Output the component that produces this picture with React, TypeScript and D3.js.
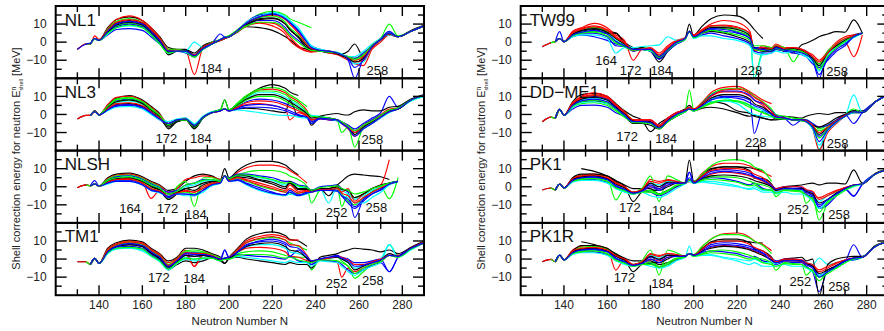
import React from "react";
import * as d3 from "d3";

const _ = null;

// Neutron numbers at which every chain is sampled
const N_GRID = [130,134,136,138,140, 144,148,154,160,164,168, 172,176,180,184,188,192,196,198, 200,204,208,214,220,226,228,232, 236,238,242,246,250,252,255,258, 262,266,270,274,278,284,290];

const LINE_COLORS = ["#000000","#ff0000","#00ff00","#0000ff","#00ffff"];

const NL1_LINES = [
  [-4,-1,-1,2,1, 8,12.5,14,12,8,3, -3,-4,-4,-6,-2,0,1,2, 3,6,8.5,8,6.5,3,1.5,-2.5, -4,-5,-5,-5.5,-6,-6.5,-5,-1, -8,-3,1,4,3,6,9],
  [-4,-1,-1,3.5,1.5, 7.5,12.5,14.5,12,8,2.5, -4,-5,-5,-18,-3,-0.5,1,2, 3,5.5,9,11,10.5,6,3,-2, -5,-5.5,-5,-6,-7,-8,-10,-12, -13,-4,0,4,3,6,9],
  [_,-1,-1,2,1, 7,11.5,13,11,7,2, -4,-4,-5,-7,-3,0,1.5,2.5, 3.5,7,11,15.5,17,15,13,11, 9,8,_,_,_,_,_,_, _,_,_,_,_,_,_],
  [-4,-1,-0.5,2,1, 4,7,7.5,6.5,3,-1, -5,-5,-6,-8,-4,-1,4.5,3, 3,6.5,11,15,16,13,11,6, 0,-2,-4,-5,-6,-7,-10,-20, -9,-2,2,6,3,6,9],
  [_,_,-1,1.5,1, 6,9.5,11,9.5,5.5,0.5, -5,-5,-5,0,-3,-1,1,2, 3,6,10,14,16.5,14,12,7, 1,-2.5,-4,-5,-6,-6.5,-9,-12, -11,-3,1,5,3,6,9],
  [_,_,-1,2,1, 6.5,10.5,12,10.5,6.5,1.5, -7,-5,-4.5,-7,-3,-0.5,1,2, 3,6,10,13,13.5,10,7,3, -2,-4,-5,-5,-6,-7,-8,-9, -7,-2,2,5,3,6.5,9.5],
  [_,_,-1,2,1, 6,10,11.5,10,6,1, -5,-4.5,-5,-8,-3,-1,1,2, 3,6,9,10.5,9,4.5,1,-3, -5,-5,-5,-6,-6.5,-7,-9,-11, -10,-3,1,4.5,3,6,9],
  [_,_,-1,2,1, 5.5,9,10.5,9,5,0, -5,-5,-5.5,-8.5,-3.5,-1,1,2.5, 3.5,6.5,10.5,13.5,14.5,11,8,4, -1,-3,-4.5,-5,-6,-7,-9,-10, -8,-2,2,10,3.5,6,9],
  [_,_,-1,2,1, 5,8.5,10,8.5,4.5,-0.5, -6,-5,-5,-8,-4,-1,1.5,2.5, 3,6,9.5,12,12,8,5,1, -3,-4,-5,-5.5,-6,-7,-8.5,-9, -6,-2,1.5,5,3,6,9],
  [_,_,-1,2,1, 4.5,8,9,8,4,-1, -6,-5,-5.5,-7,-4,-1,1,2, 3,6.5,11,14.5,15.5,13.5,12,8, 1,-2,-4,-5,-5.5,-6.5,-8,-8, -5,-1,2,4,3,6,9],
  [_,_,-1,2,1, 5.5,9.5,11,9.5,5.5,0.5, -5.5,-5,-5,-7.5,-3.5,-1,1,2, 3,6,9.5,12.5,13,10,7,2.5, -3,-4,-5,-5.5,-6.5,-7.5,-9,-11, -9,-2.5,1.5,4.5,3,6,9],
  [_,_,-1,2,1, 6.5,11,12.5,11,7,2, -4.5,-4.5,-5,-7,-3,-0.5,1,2, 3,6.5,10.5,14,15,12.5,10,5, -1.5,-3.5,-4.5,-5,-6,-7,-8.5,-10, -8,-2,1.5,4.5,3,6,9],
  [_,_,-1,2,1, 5,8,9.5,8,4,-1, -6,-5,-5,-8,-4,-1,1.5,2.5, 3,6,9,11,11,7,4,0, -3.5,-4.5,-5,-5.5,-6,-7,-8,-9.5, -7,-2,1.5,5,3,6,9],
  [_,_,-1,2,1, 6,10,11.5,10,6,1, -5,-5,-5,-7.5,-3.5,-1,1.5,2.5, 3,6.5,10.5,14,15.5,13,11,6.5, 0,-3,-4.5,-5,-6,-7,-9,-14, -10,-2.5,1.5,5,3,6,9],
];

const NL3_LINES = [
  [-2.5,-0.5,-0.5,2,-0.3, 5,9,10.5,8,4.5,0.5, -8,-4,-3,-7.5,-2,1,2.5,8, 2.5,6,10,14.5,16.5,14.5,12.5,10.5, _,_,_,_,_,_,_,_, _,_,_,_,_,_,_],
  [-2.5,-0.5,-0.5,1.5,-0.3, 5.5,9.5,10,7.5,4,0, -5,-3,-2,-6,-1.5,1,2.5,3, 2.5,6,9.5,13.5,14,12,10,7, 2,-3,-2,-2.5,-3,-4,-6,-9, -6,-3,0,3,3.5,8,10.5],
  [_,_,-0.5,1.5,-0.3, 4.5,8.5,9.5,7,3.5,-0.5, -6,-3.5,-2.5,-6.5,-1.5,1,2.5,8, 2.5,6.5,10.5,14,15,13,11,8, 4.3,_,_,_,_,_,_,_, _,_,_,_,_,_,_],
  [_,_,-0.5,1.5,-0.3, 4,7.5,8.5,6.5,3,-1, -5,-3,-2.5,-6,-1.5,1,2,3, 2,4.5,7,8.5,8,6,5,3, 0,-5,-2,-2,-3,-4,-6,-8, -5,-2,1,10,4,8,10.5],
  [_,_,-0.5,1.5,-0.3, 3.5,6.5,7.5,5.5,2,-1.5, -4,-2.5,-2,-5,-1,1.5,2.5,3, 2.5,5.5,9,12,12,9.5,8,5, 1,-0.5,-1,-2,-3,-4,-7,-10, -7,-4,-1,2,3,7.5,10],
  [_,_,-0.5,2,-0.3, 3,5.5,6,4.5,1.5,-2, -7,-4,-3,-8,-2,1,2,3, 2,3,3.5,3,2,1,8,-1, -1,-6,-1,0,0.5,0,-0.3,1.5, 2.5,2,2,4,4.5,8.5,11],
  [_,_,-0.5,1.5,-0.3, 3,5,5.5,4,1,-2.5, -5,-3,-2.5,-6,-1.5,1,2,3, 2,4,5.5,6,5,3,-3,1, -1,-3,-2.5,-3,-3.5,-5,-8,-12, -8,-5,-2,1.5,3,8,10.5],
  [_,_,-0.5,1.5,-0.3, 4,7,8,6,2.5,-1, -6,-3.5,-3,-7,-2,1,2.5,3, 2.5,5,8,10,10,7.5,6,3, 0,-4,-2,-2.5,-3.5,-10,-7,-18, -7,-4,-1,2,3,8,10.5],
  [_,_,-0.5,1.5,-0.3, 2.5,4.5,5,3.5,0.5,-3, -5,-3,-2.5,-6.5,-1.5,1,2,3, 2,3.5,5,5.5,5,3,2,0, -2,-5,-2.5,-3,-3.5,-5,-7,-10, -6,-3,-0.5,2,3,8,10.5],
  [_,_,-0.5,1.5,-0.3, 2,4,4.5,3,0,-3, -4,-2.5,-2,-5.5,-1,1.5,2,3, 2,2.5,2,1,0,-0.5,-0.5,-1.5, -2,-1,-2,-2.5,-3.5,-5,-7,-11, -8,-5,-2,1,3,7.5,10],
  [_,_,-0.5,1.5,-0.3, 4,7,8,6,2.5,-1, -6,-3.5,-2.5,-6.5,-1.5,1,2.5,3, 2.5,5.5,8.5,11,11,8.5,7,4, 0.5,-2,-1.5,-2,-3,-4.5,-7,-11, -7,-4,-1,2,3,8,10.5],
  [_,_,-0.5,1.5,-0.3, 3,6,6.5,5,1.5,-2, -5,-3,-2.5,-6,-1.5,1,2,3, 2,4,6.5,7.5,7,5,4,2, -0.5,-3,-2,-2.5,-3,-4.5,-7,-10, -6,-3.5,-1,1.5,3,8,10.5],
  [_,_,-0.5,1.5,-0.3, 4.5,8,9,7,3,-0.5, -5.5,-3,-2.5,-6,-1.5,1,2.5,3, 2.5,6,9.5,13,13,11,9,6, 1.5,-1,-1.5,-2,-3,-4,-6.5,-9, -6,-3.5,-0.5,2.5,3.5,8,10.5],
  [_,_,-0.5,1.5,-0.3, 2.5,5,5.5,4,1,-2.5, -5,-3,-2.5,-6,-1.5,1,2,3, 2,3,4,4,3.5,2,1,-0.5, -1.5,-4,-2,-2.5,-3,-5,-7.5,-12, -8,-5,-1.5,1.5,3,8,10.5],
];

const NLSH_LINES = [
  [-0.5,1,0.5,1.5,0.4, 5,7,7.5,5.5,3,1, -2,-1,3,6,7,6,4,10, 5,9,12,14,14,12,10,6.5, _,_,_,_,_,_,_,_, _,_,_,_,_,_,_],
  [-0.5,1,0.5,1.5,0.4, 4.5,6.5,7,5,2.5,0.5, -3,-1,4,5,6,5.5,4,6, 4.5,8,10.5,12,12,10.5,9,6, 2,_,_,_,_,_,_,_, _,_,_,_,_,_,_],
  [_,1,0.5,1.5,0.4, 4,6,6.5,4.5,2,0, -7,0,3,-11,5,5,3.5,6, 4,6.5,8,9,9,7.5,6,4, 0,-9,-2,-1,0,-11,-4,-6, -4,-2,0,-6.6,5,_,_],
  [_,_,0.5,3.4,0.4, 3.5,5.5,6,4,1.5,-0.5, -3,-2,1,2,4,4,3,6, 5,7,7,6,5,3,3,1, 0,-2,0,0.5,1,-1,-3,-17, -7,-3,-1,2,3,_,_],
  [_,_,0.5,1.5,0.4, 3,5,5.5,3.5,1,-1, -4,-3,0,1,3,3.5,3,6, 4.5,6,6,5,3.5,1,2,0, -1,-2,-1,-9,0,-2,-4,-7, -5,-2,0,1.5,2.5,_,_],
  [_,_,0.5,1.5,0.4, 3,4.5,5,3,0,-2, -7,-4,-1,-2,1,2.5,2.5,6, 4,5.5,5,3.5,1.5,-1,3,-1, -1,-2,-1,-5,1,3,6,7, 6.5,6,5.5,4,_,_,_],
  [_,_,0.5,1.5,0.4, 2.5,4,4.5,2.5,-6.4,-2, -5,-3,-2,-3,0,2,2.5,6, 4,5,4,2,0,-2,1,-2.5, -2,-3,-1,-1,0,-3,-1,-8, -4,-1,1,15,_,_,_],
  [_,_,0.5,1.5,0.4, 2.5,4,4,2,-1,-2.5, -6,-3.5,-3,-4,-1,1.5,2.5,6, 3.5,4.5,3,0.5,-1.5,-3,-4,-3.5, -3,-3,-1.5,-2,-1,-4,-8,-10, -6,-3,-0.5,2,3,_,_],
  [_,_,0.5,1.5,0.4, 2,3.5,3.5,1.5,-1.5,-3, -6,-4,-4,-5,-2,1,2.5,6, 3,4,2,-0.5,-3,-4.5,-2,-4.5, -3,-2.5,-1.5,-1.5,-2,-5,-9,-12, -8,-4,-2,1.5,3,_,_],
  [_,_,0.5,1.5,0.4, 1.5,3,3,1,-2,-3.5, -5,-4,-5,-5,-3,0.5,2,6, 3,3.5,1,-2,-4,-5,-4,-5, -4,-3,-2,-2,-2.5,-5,-6,-9, -9,-6,-3,1,2.5,_,_],
  [_,_,0.5,1.5,0.4, 3,5,5,3,0.5,-1.5, -4,-3,-1,0,2,3,3,6, 4.5,6.5,6,4,2.5,0,2,-1.5, -1.5,-2,-1,-1,0,-1.5,-2,-6, -4,-1,1,2,3,_,_],
  [_,_,0.5,1.5,0.4, 2.5,4,4,2,-1,-2.5, -5.5,-3.5,-2.5,-3,-1,1.5,2.5,6, 3.5,5,3.5,1,-1,-3,-1,-3.5, -2.5,-3,-1.5,-1.5,-1,-3.5,-5,-9, -6,-3,-0.5,1.5,3,_,_],
  [_,_,0.5,1.5,0.4, 3.5,5,5.5,3.5,1,-1, -4,-2.5,1,2,3.5,4,3,6, 4.5,6.5,6.5,5.5,4,2,2.5,0.5, -0.5,-2,-0.5,0,0.5,-1,-2,-4, -3,-1,0.5,2,3,_,_],
  [_,_,0.5,1.5,0.4, 2,3,3,1,-2,-3, -5.5,-4,-4,-4.5,-2,1,2,6, 3,3.5,1.5,-1.5,-3.5,-4.5,-3,-5, -3.5,-3,-2,-2,-2.5,-5,-7,-11, -7,-4,-1.5,1.5,3,_,_],
];

const TM1_LINES = [
  [-1.5,-1.5,-3,0.4,-2.4, 6,9,10.5,9.5,6,3, -1,1,6,6,5,3,1,-2.4, 1,6,11,14,15,13,11,10, 7,_,_,_,_,_,_,_, _,_,_,_,_,_,_],
  [-1.5,-1.5,-3,0.4,-2.4, 5.5,8.5,10,9,5.5,2.5, -2,0.5,5,-4.2,4,2.5,0.5,0, 1,5.5,10,12.5,13.5,12,10.5,10.6, _,_,_,_,_,_,_,_, _,_,_,_,_,_,_],
  [_,-1.5,-3,0.4,-2.4, 5,8,9.5,8.5,5,2, -3,0,4,4,3.5,2,0,0, 1,3,4,4.5,4,2,1.5,1, 1,-6,0,0.5,1,-1,-4,-10.6, -7,-3,-1,8,2,6,9],
  [_,_,-3,0.4,-2.4, 4.5,7.5,9,8,4.5,1.5, -4,-0.5,3.5,3.5,3,1.5,0,5, 1,4.5,8,9.5,10,8,1.5,5, 0,-3,0,1,2,1,0,-2, -2,-1,0,-7,1,5.5,9],
  [_,_,-3.3,0.4,-2.4, 3,6,6,5,2,-1, -5,-2,1,0,1,1,-0.5,0.5, 0.5,3.5,6.5,8,8,6,4,3, 1,-1,0,0.5,1,0,-2,-5, -4,-2,0,8,1.5,5.5,9],
  [_,_,-3,0.4,-2.4, 4,7,8,7,3,0, -6,-3,-1,-2,-1,0.5,-1,-2.4, 0,1,0,-1,-2,-3,-2,-3, -3,-5,1,2,3,4,5,6, 5.5,5,4,5,3,6.5,10],
  [_,_,-3,0.4,-2.4, 4,7,8.5,7.5,4,1, -4,-1,2.5,-4,2,1,-0.5,0, 1,4,6,6.5,6,4,1.5,1, -1,-2,0,-1,-2,-10,-5,-7, -5,-3,-1.5,2,2,6,9.5],
  [_,_,-3,0.4,-2.4, 4.5,7.5,9,8,4.5,1.5, -3,0,4.5,5,4,2.5,0.5,0, 1,5,9,11,12,10.5,9,7, 5,_,_,_,_,_,_,_, _,_,_,_,_,_,_],
  [_,_,-3,0.4,-2.4, 3.5,6.5,7,6,2.5,-0.5, -5,-1.5,2,1.5,2,1,-1,5, 0.5,2.5,2,1.5,1,0,1.5,-1, -2,-3,-0.5,-1,-1.5,-3,-6,-8, -6,-3.5,-2,-7,1,5.5,9],
  [_,_,-3.3,0.4,-2.4, 3,5.5,6,4.5,1.5,-1.5, -6,-2.5,0,-1,0,0.5,-1,0, 0,1.5,1,0,-1,-2,-1,-2, -2,-4,-1,-1.5,-2,-4,-7,-9, -6,-4,-2,8,1,5,9],
  [_,_,-3,0.4,-2.4, 4,7,8,7,3.5,0.5, -4.5,-1.5,2,1.5,2,1,-0.5,0.5, 0.5,4,7,8.5,9,7,5,4, 0.5,-1.5,0,0.5,1,0,-2,-6, -4,-2,-0.5,3,1.5,6,9],
  [_,_,-3,0.4,-2.4, 5,8,9.5,8.5,5,2, -3.5,0,3.5,3,3,2,0,0, 1,5,9,11.5,12.5,10.5,8,7.5, 2,-1,0,0.5,1.5,1,-0.5,-3, -3,-1.5,0,2,1.5,6,9],
  [_,_,-3,0.4,-2.4, 3.5,6,6.5,5.5,2,-1, -5.5,-2,0.5,0,0.5,0.5,-1,0, 0,2,2.5,2.5,2,0.5,1,-0.5, -1.5,-2,-0.5,-0.5,-1,-2,-4,-8, -5,-3,-1.5,2,1,5.5,9],
  [_,_,-3,0.4,-2.4, 4,7,8.5,7.5,4,1, -4,-1,3,2.5,2.5,1.5,0,0.5, 1,4,7.5,10,11,9,7,6, 1.5,-1,0,1,1.5,0.5,-1,-4, -3.5,-2,-0.5,2,1.5,6,9],
];

const TW99_LINES = [
  [-2.5,-0.3,0.3,2,0.3, 5,7,8,6,5,0, -3,-4,-5,-11,-5,0,2,6, 4,9,13,15,14.5,10,7,2, _,_,_,_,_,_,_,_, _,_,_,_,_,_,_],
  [-2.5,-0.3,0.3,2,0.3, 6,8,10.4,8,4,1, -10,-4,-3,-6,-2,1,2.5,6, 4,7,10,12,11,6,-5,-4, -4,-3,-5,-4,-5,-6,-8,-12, -8,-3,0,-8,4,_,_],
  [_,-0.3,0.3,2,0.3, 5,7,8,6,2,-1, -4,-3,-4,-8,-4,0,2,6, 3.5,6.5,8.5,8.5,7.5,4,-20,-5, -5,-3,-4,-4,-5,-7,-9,-14, -8,-3,-1,3,5,_,_],
  [_,_,0.3,5.8,0.3, 3,4,3,1,-1,-2, -4,-3.5,-4,-9,-5,-1,1.5,6, 3,5.5,7,6,5,2,-3,-3, -3,-3,-4,-3.5,-4,-5,-10,-20, -5,-2,1,4,5,_,_],
  [_,_,0.3,2,0.3, 4.5,6.5,7.5,5.5,1,-1.5, -3,-2.5,-2,-1.5,3,1,2,6, 3.5,6.5,9,9,8,4,-20,-6, -4,-2,-4,-3,-4,-5,-11,-16, -7,-2,1.5,4,5,_,_],
  [_,_,0.3,2,0.3, 4,6,7,5,5,-0.5, -4,-3,-5,-9,-5,-0.5,2,10, 3,5,6,5,3,0,-3,-5, -5,-4,-5,-6,-1.5,-0.6,1,3, 4.5,5.8,5.5,12.3,5,_,_],
  [_,_,0.3,2,0.3, 5.5,7.5,9,7,3,0, -5,-4,-4,-7,-3,0.5,2,6, 4,7,9,9,8,5,-5,-2, -3,-1,-3,-3,-4,-5,-7,-10, -5,0,3,4,5,_,_],
  [_,_,0.3,2,0.3, 4,5.5,6,4.5,0,-2, -4,-4,-3.5,-8,-4,0,2,6, 3,6,8,7.5,6,3,-2,-2, -3,-2,-3,-10.8,-5,-7,-9,-12, -5,-1,2,3,5,_,_],
  [_,_,0.3,2,0.3, 3.5,5,5,3,-2,-2.5, -5,-4,-5,-9.5,-5,-1,1.5,6, 2.5,4,5,3.5,2,-1,-5,-6, -6,-4,-5,-6,-7,-8,-12,-14, -10,-5,-2,3,5,_,_],
  [_,_,0.3,2,0.3, 3,4,4,2,-6,-3, -4,-4,-5,-7,-4,-0.5,1.5,6, 2,3.5,3.5,2,1,-2,-6,-7, -6,-5,-6,-5,-7,-8,-11,-13, -7,-3,0,2.5,5,_,_],
  [_,_,0.3,2,0.3, 4.5,6.5,7.5,5.5,2,-1, -4,-3.5,-4,-8,-4,0,2,6, 3,6,8,8,7,3.5,-4,-3.5, -4,-2.5,-4,-3.5,-4.5,-6,-9,-13, -6,-2,1,3.5,5,_,_],
  [_,_,0.3,2,0.3, 5,7,8.5,6.5,2.5,-0.5, -4.5,-3.5,-3.5,-7,-3.5,0.5,2,6, 3.5,6.5,9,9.5,8.5,4.5,-4,-3, -3.5,-2,-3.5,-3,-4,-5.5,-8,-11, -6,-1,2,3.5,5,_,_],
  [_,_,0.3,2,0.3, 3.5,5,5.5,3.5,-0.5,-2.5, -4.5,-4,-4.5,-8.5,-4.5,-0.5,1.5,6, 2.5,5,6.5,5.5,4,1,-4,-4.5, -4.5,-3.5,-4.5,-4.5,-5.5,-6.5,-10,-15, -8,-3,0.5,3,5,_,_],
  [_,_,0.3,2,0.3, 4,5.5,6.5,4.5,0.5,-2, -4,-4,-4,-8,-4,0,2,6, 3,5.5,7.5,7,5.5,2,-3.5,-4, -5,-3,-4.5,-5,-6,-7,-10,-18, -9,-4,-1,3,5,_,_],
];

const DDME1_LINES = [
  [-4,-1.5,-2,2.8,-0.5, 7,11,11.7,10,6,2, -1,-3,-9.5,-5,-2,1,3,5, 3,5,7,6,2,0.6,-1,-2, -3,-2,-1,-1.5,-2,-1,0,0.5, 0,1,1,2,2,7,11],
  [-4,-1.5,-2,2.8,-0.5, 6.5,10,12,10,5.5,1.5, -3,-3,-3,-6,-2,1,2.5,4, 3,7,12,15,15.5,12.5,11,8, 6,_,_,_,_,_,_,_, _,_,_,_,_,_,_],
  [_,-1.5,-2,2.8,-0.5, 5.5,9,10.5,8.5,4.5,1, -3,-4,-4,-7,-3,0,2,13.5, 3,6.5,11,14,14.5,12,10,7, 3,0,-1,-2,-2.5,-3,-5,-8, -6,-3,0,3,1,7,11],
  [_,_,-2,2.8,-0.5, 3,5,5.2,4,1,-1, -4,-4,-4,-7,-4,-1,1.5,3, 2,4.5,8,10,10,8,-10.5,2, -1,-1,-2,-3,-3,-3,-5,-7, -6,-3,0,-5,1,7,11],
  [_,_,-2,2.8,-0.5, 5,8,9,8,4,0, -4,-4,-5,-7.5,-3,0,2,3, 2.5,6,9,9,7,5,4,2, 0,-1.5,-2,-3,-3,-4,-7,-19, -8,-4,-1,10.8,1,7,11],
  [_,_,-2,2.8,-0.5, 4.5,7,7.5,6,3,-1, -5,-5,-6,-8,-4,-1,1.5,3, 2,3.5,4,3,1,-1,-0.5,-2, -3,-3,-2.5,-3,-3.5,-4,-6,-7, -5,-2,0,2,1,7,11],
  [_,_,-2,2.8,-0.5, 6,9.5,11,9.5,5,1, -3,-3,-3,-6,-2,1,2.5,4, 3,6,10,12.5,12.5,10,8,5, 0,-2,-2,-3,-3,-4,-8,-19.7, -10,-5,-1,1,1,7,11],
  [_,_,-2,2.8,-0.5, 4,6,6.5,5,2,-1.5, -4,-4.5,-5,-8,-4,-1,1.5,3, 2,4,6,7.5,7,4,3,1, -1,-2,-2.5,-3,-3.5,-4,-7,-9, -7,-4,-1,1,1,7,11],
  [_,_,-2,2.8,-0.5, 5,8.5,10,8.5,4.5,0.5, -3.5,-3.5,-3.5,-6.5,-2.5,0.5,2,3, 2.5,6,10.5,13,13,10.5,8,6, 2,-0.5,-2,-6,-3,-3.5,-7,-12, -8,-4,-1,1,1,7,11],
  [_,_,-2,2.8,-0.5, 4,6.5,7,6,3,-1, -4,-4,-4.5,-7,-3.5,-0.5,1.5,3, 2,5,7,7.5,6,1,0,-1, -1.5,-1,-2,-3,-3,-4,-8,-17, -9,-4.5,-1,1,1,7,11],
  [_,_,-2,2.8,-0.5, 5.5,8.5,9.5,8,4,0.5, -3.5,-4,-4,-7,-3,0,2,3, 2.5,5.5,9,11,11,8.5,6,4, 0.5,-1,-2,-3,-3,-3.5,-6.5,-11, -7,-3.5,-0.5,1.5,1,7,11],
  [_,_,-2,2.8,-0.5, 6,9,10.5,9,5,1, -3,-3.5,-3.5,-6.5,-2.5,0.5,2,3, 3,6,10,13.5,14,11.5,9.5,6.5, 1.5,-1,-2,-3,-3,-3.5,-6,-10, -7,-3.5,-0.5,1.5,1,7,11],
  [_,_,-2,2.8,-0.5, 4.5,7,8,6.5,3,-1, -4.5,-4.5,-5,-7.5,-4,-0.5,1.5,3, 2,4.5,6.5,8,7.5,5,3,1, -1,-2,-2.5,-3,-3.5,-4,-7,-13, -8,-4,-1,1.5,1,7,11],
  [_,_,-2,2.8,-0.5, 5,7.5,8.5,7,3.5,-0.5, -4,-4,-4.5,-7.5,-3.5,0,2,3, 2.5,5,8,9.5,9,6.5,5,3, 0,-1.5,-2,-3,-3,-4,-7,-15, -8.5,-4,-1,1.5,1,7,11],
];

const PK1_LINES = [
  [-1.8,-0.7,-1.8,1.5,-0.7, _,10,8.5,6,3.5,1, -1,-1,-1,-4,-2,0,2,14.8, 3,7,10,11,11,10.5,10,9, _,_,_,_,_,_,_,_, _,_,_,_,_,_,_],
  [-1.8,-0.7,-1.8,1.5,-0.7, 4.5,6.5,7,5.5,2.5,0, -3,-2,4,3,4,3,2,3, 3,7.5,11,13,13,11.5,10,8, 5.6,_,_,_,_,_,_,_, _,_,_,_,_,_,_],
  [_,-0.7,-1.8,1.5,-0.7, 4,6,6.5,5,-7.3,-1, -3,-1,6,-8.2,6,4,2,4, 3,7,11.5,14.5,15,13,11,9, 3,_,_,_,_,_,_,_, _,_,_,_,_,_,_],
  [_,_,-1.8,1.5,-0.7, 3,4,4,2.5,0,-2, -4,-2.5,-3,-5,-3,0,2,8, 2,4,5,4.5,3,1,2,-1, -2,-3,-1.5,-2,-2,-4,-6,-11, -7,-4,-1.5,-5.3,1.5,7,9.5],
  [_,_,-1.8,1.5,-0.7, 3.5,5,5.5,4,1,-1, -3,-2,2,1,3,3,2,4, 2,2.5,2,1,0,-1,0,-2, -2,-3,-1,-1.5,-2,-3,-5,-8, -5,-3,-1,1,1.5,7,9.5],
  [_,_,-1.8,1.5,-0.7, 5,7,7,6,3,0.5, -8.2,-3,-2,-2,0,2,2.5,3, 2.5,6,9.5,11,11,9,4.7,4.5, 1.5,-2,0,0.5,1,1.5,2,1, 2,2,1.5,9.3,2,7.5,10],
  [_,_,-1.8,1.5,-0.7, 4,5.5,6,4.5,1.5,-0.5, -3,-2,0,-1,1,2,2,3, 2.5,5,7,8,7.5,6,5,3, 0,-2,-1,-1,-1,-3,-4,-6, -4,-2,-0.5,1,1.5,7,9.5],
  [_,_,-1.8,1.5,-0.7, 3,4.5,5,3,-1,-2.5, -4,-3,-2,-4,-2,1,2,4, 2,4,5.5,5.5,5,3,2,1, -1,-5.5,-1.5,-2,-2.5,-9.2,-6,-18.4, -9,-5,-2,1,1.5,7,9.5],
  [_,_,-1.8,1.5,-0.7, 3.5,5,5,4,0.5,-1.5, -3.5,-2,1,-1,2,2,2,8, 2.5,5.5,8.5,9.5,9,7.5,6,4, 1,-1,0,0,-0.5,-2,-3,-12, -10,-5,-1,-5,1.5,7,9.5],
  [_,_,-1.8,1.5,-0.7, 2.5,3.5,3.5,2,-1,-3, -4,-3,-5,-6,-4,-1,1.5,3, 2,3,3,2,0.5,-1.5,-1,-3, -3,-4,-3,-4,-4,-5,-8,-12, -8,-5,-2,0,1.5,7,9.5],
  [_,_,-1.8,1.5,-0.7, 4,5.5,6,4.5,1.5,-0.5, -3.5,-2,2,0,2.5,2.5,2,4, 2.5,4.5,6,6.5,6,4.5,3.5,2, 0,-2,-0.5,-1,-1,-2.5,-4,-9, -7,-3.5,-1,1,1.5,7,9.5],
  [_,_,-1.8,1.5,-0.7, 4.5,6,6.5,5,2,0, -3,-1.5,3,2,3.5,3,2,4, 2.5,6,9,10,10,8.5,7,5, 1,-1,0,0,0,-1.5,-2.5,-7, -5,-2.5,-0.5,1,1.5,7,9.5],
  [_,_,-1.8,1.5,-0.7, 3,4,4.5,3,-0.5,-2, -4,-3,-3,-4.5,-2.5,0.5,2,4, 2,3.5,4,3.5,2.5,0.5,1,-1.5, -2,-3.5,-2,-2.5,-3,-4.5,-7,-14, -8,-5,-2,0.5,1.5,7,9.5],
  [_,_,-1.8,1.5,-0.7, 3.5,5,5.5,4,0.5,-1.5, -3.5,-2.5,0,-2,1,2,2,5, 2,5,7.5,8.5,8,6.5,5.5,3.5, 0.5,-1.5,-1,-1,-1.5,-3,-5,-10, -7,-4,-1,1,1.5,7,9.5],
];

const PK1R_LINES = [
  [-1.5,-0.2,-1.5,2.2,-0.5, _,9.6,8,5.5,3,0.5, -1,-1,-1,-3,-2,0,1.5,3, 2,6,9,10,10,9.5,9,8.9, _,_,_,_,_,_,_,_, _,_,_,_,_,_,_],
  [-1.5,-0.2,-1.5,2.2,-0.5, 5,7,7.5,6,-6.1,0, -3,-2,3,2,3,2.5,1.5,3, 2.5,7,11,14,14.4,12,10,8, 4.6,_,_,_,_,_,_,_, _,_,_,_,_,_,_],
  [_,-0.2,-1.5,2.2,-0.5, 4.5,6.5,7,5.5,2.5,-0.5, -3,-1,5,-8.8,5,3.5,1.5,3, 2.5,7,11,13.5,13.5,11.5,10,7.5, 3,_,_,_,_,_,_,_, _,_,_,_,_,_,_],
  [_,_,-1.5,2.2,-0.5, 3,4,4,2.5,0,-2, -4,-2.5,-2.5,-4.5,-3,-0.5,1,3, 1.5,3.5,4.5,4,3,1,1.5,-1, -2,-3,-1.5,-2,-2,-4,-7,-18, -6,-4,-1.5,7.9,1,7,9.5],
  [_,_,-1.5,2.2,-0.5, 3.5,5,5.5,4,1,-1, -3,-2,2,1,2.5,2.5,1.5,7.2, 1.5,3,2.5,1,0,-1,0,-2, -2,-2.5,-1,-1,-1,-2,-3,0.6, -3,-2,-0.5,-0.5,1,7,9.5],
  [_,_,-1.5,2.2,-0.5, 4.5,7.5,7.5,6,2.5,0, -7,-3,-2,-2,0,2,1.5,3, 2,5.5,9.5,11,11,9,5.5,4.5, 1,-2,0,0.5,1,-1,0,-20, -3,0,1,1.5,1.5,7.5,10],
  [_,_,-1.5,2.2,-0.5, 4,5.5,6,4.5,1.5,-0.5, -3,-2,0,-1,1,1.5,1.5,3, 2,4.5,6.5,7.5,7,5.5,4.5,2.5, -0.5,-2,-1,-1,-1.5,-3,-4,-7, -5,-2.5,-0.5,0.5,1,7,9.5],
  [_,_,-1.5,2.2,-0.5, 3,4.5,5,3,-1,-2.5, -4,-3,-2,-4,-2,0.5,1,3, 1.5,3,4.5,5,4,2,1,0, -2,-6.2,-2,-2.5,-3,-8.9,-6,-10, -8,-5,-2,0.5,1,7,9.5],
  [_,_,-1.5,2.2,-0.5, 3.5,5,5,4,0.5,-1.5, -3.5,-2,1,-0.5,2,2,1.5,3, 2,5,8,9,8.5,7,6,3.5, 0.5,-1,0,0,-0.5,-2,-4,-9, -7,-4,-1,-0.5,1,7,9.5],
  [_,_,-1.5,2.2,-0.5, 2.5,3.5,3.5,2,-1,-3, -4,-3,-4,-5,-4,-1,1,3, 1.5,2,2,0.5,-1,-3,-2,-4, -4,-4,-3,-4,-4,-5,-7,-9, -7,-5,-2,0,1,7,9.5],
  [_,_,-1.5,2.2,-0.5, 4,5.5,6,4.5,1.5,-0.5, -3.5,-2,1.5,0,2,2,1.5,3, 2,4.5,6,7,6.5,5,4,2, -0.5,-2,-0.5,-0.5,-1,-2.5,-4,-8, -6,-3.5,-1,0.5,1,7,9.5],
  [_,_,-1.5,2.2,-0.5, 4.5,6,6.5,5,2,0, -3,-1.5,2.5,1.5,3,2.5,1.5,3, 2,5.5,9,10,10,8,6.5,4.5, 0.5,-1.5,0,0,-0.5,-2,-3,-6, -4,-2,-0.5,0.5,1,7,9.5],
  [_,_,-1.5,2.2,-0.5, 3,4,4.5,3,-0.5,-2, -4,-3,-3,-4.5,-3,0,1,3, 1.5,2.5,3.5,3,2,0,0.5,-2, -3,-4,-2.5,-3,-3,-4.5,-6.5,-12, -7,-5,-2,0,1,7,9.5],
  [_,_,-1.5,2.2,-0.5, 3.5,5,5.5,4,0.5,-1.5, -3.5,-2.5,0,-2,1,1.5,1.5,3, 2,4,7,8,7.5,6,5,3, -1,-2,-1,-1,-1,-3,-5,-10, -7,-4,-1,0.5,1,7,9.5],
];

// magic-number annotations: [text, N, E]
const NL1_LABELS = [["184",191.7,-14.4],["258",268.5,-15.4]];
const NL3_LABELS = [["172",171.1,-13.2],["184",187,-13.2],["258",266.2,-13.8]];
const NLSH_LABELS = [["164",154.3,-11.9],["172",171.6,-11.9],["184",184.7,-15.3],["252",249.7,-14.2],["258",268,-11.6]];
const TM1_LABELS = [["172",167.6,-10.1],["184",183.9,-10.7],["252",249.7,-13.4],["258",266.4,-11.6]];
const TW99_LABELS = [["164",159.5,-10.4],["172",170.8,-15.8],["184",185,-15.8],["228",226.7,-15.4],["258",266.3,-16.3]];
const DDME1_LABELS = [["172",169.2,-11.9],["184",187.3,-13.2],["228",228.7,-15.6],["258",266.6,-16.3]];
const PK1_LABELS = [["172",170.5,-11.6],["184",185.7,-13.2],["252",248.3,-12.3],["258",267.3,-15.6]];
const PK1R_LABELS = [["172",168,-10.1],["184",185.4,-13.4],["252",249.3,-12.5],["258",267.3,-14.9]];

const PANEL_NAMES = ["NL1","NL3","NLSH","TM1","TW99","DD\u2212ME1","PK1","PK1R"];
const PANEL_LINES = [NL1_LINES, NL3_LINES, NLSH_LINES, TM1_LINES, TW99_LINES, DDME1_LINES, PK1_LINES, PK1R_LINES];
const PANEL_LABELS = [NL1_LABELS, NL3_LABELS, NLSH_LABELS, TM1_LABELS, TW99_LABELS, DDME1_LABELS, PK1_LABELS, PK1R_LABELS];

const X_MAJOR = [140,160,180,200,220,240,260,280];
const X_MINOR = [130,150,170,190,210,230,250,270];
const Y_MAJOR = [-10,0,10];
const Y_MINOR = [-15,-5,5,15];
const X_DOMAIN = [120,290];
const Y_DOMAIN = [-20,20];

const W = 884, H = 331;
const COLS = [{ x0: 55.7, x1: 424 }, { x0: 520.7, x1: 888.3 }];
const TOP = 6, PH = 72.3;
const FONT = "'Liberation Sans', Arial, Helvetica, sans-serif";

const fmt = (v: number) => (v < 0 ? "\u2212" + Math.abs(v) : String(v));

export default function App() {
  const panels = PANEL_NAMES.map((name, i) => ({ name, lines: PANEL_LINES[i], labels: PANEL_LABELS[i], col: Math.floor(i / 4), row: i % 4, idx: i }));
  const xs = COLS.map(c => d3.scaleLinear().domain(X_DOMAIN).range([c.x0, c.x1]));

  return (
    <svg width={W} height={H} style={{ position: "absolute", left: 0, top: 0, background: "#fff" }} fontFamily={FONT}>
      <defs>
        {panels.map(p => {
          const c = COLS[p.col];
          const t = TOP + p.row * PH;
          return (
            <clipPath key={p.idx} id={`clip${p.idx}`}>
              <rect x={c.x0} y={t} width={c.x1 - c.x0} height={PH} />
            </clipPath>
          );
        })}
      </defs>
      {panels.map(p => {
        const c = COLS[p.col];
        const x = xs[p.col];
        const t = TOP + p.row * PH;
        const y = d3.scaleLinear().domain(Y_DOMAIN).range([t + PH, t]);
        const line = d3.line<number | null>()
          .defined(v => v !== null && v !== undefined)
          .x((_v, i) => x(N_GRID[i]))
          .y(v => y(v as number))
          .curve(d3.curveMonotoneX);
        const b = t + PH;
        return (
          <g key={p.idx}>
            <g clipPath={`url(#clip${p.idx})`}>
              {p.lines.map((vals, li) => (
                <path key={li} d={line(vals as (number | null)[]) || ""} fill="none" stroke={LINE_COLORS[li % LINE_COLORS.length]} strokeWidth={1.15} strokeLinejoin="round" />
              ))}
            </g>
            <g stroke="#000" strokeWidth={1.4}>
              {X_MAJOR.map(v => (
                <g key={"xM" + v}>
                  <line x1={x(v)} x2={x(v)} y1={b} y2={b - 10} />
                  <line x1={x(v)} x2={x(v)} y1={t} y2={t + 10} />
                </g>
              ))}
              {X_MINOR.map(v => (
                <g key={"xm" + v}>
                  <line x1={x(v)} x2={x(v)} y1={b} y2={b - 6} />
                  <line x1={x(v)} x2={x(v)} y1={t} y2={t + 6} />
                </g>
              ))}
              {Y_MAJOR.map(v => (
                <g key={"yM" + v}>
                  <line x1={c.x0} x2={c.x0 + 11} y1={y(v)} y2={y(v)} />
                  <line x1={c.x1} x2={c.x1 - 11} y1={y(v)} y2={y(v)} />
                </g>
              ))}
              {Y_MINOR.map(v => (
                <g key={"ym" + v}>
                  <line x1={c.x0} x2={c.x0 + 6} y1={y(v)} y2={y(v)} />
                  <line x1={c.x1} x2={c.x1 - 6} y1={y(v)} y2={y(v)} />
                </g>
              ))}
            </g>
            <rect x={c.x0} y={t} width={c.x1 - c.x0} height={PH} fill="none" stroke="#000" strokeWidth={2} />
            {Y_MAJOR.map(v => (
              <text key={"yl" + v} x={c.x0 - 9} y={y(v)} dy="0.35em" textAnchor="end" fontSize={12} fill="#222">{fmt(v)}</text>
            ))}
            <text x={c.x0 + 9} y={t + 19.5} fontSize={17} fill="#111">{p.name}</text>
            {p.labels.map((l, k) => (
              <text key={k} x={x(l[1] as number)} y={y(l[2] as number)} dy="0.35em" textAnchor="middle" fontSize={13} fill="#111">{l[0]}</text>
            ))}
            {p.row === 3 && X_MAJOR.map(v => (
              <text key={"xl" + v} x={x(v)} y={b + 10} dy="0.35em" textAnchor="middle" fontSize={12} fill="#222">{v}</text>
            ))}
          </g>
        );
      })}
      {COLS.map((c, i) => (
        <g key={"t" + i}>
          <text x={(c.x0 + c.x1) / 2} y={321} dy="0.35em" textAnchor="middle" fontSize={11.5} fill="#222">Neutron Number N</text>
          <text transform={`translate(${c.x0 - 40},158.5) rotate(-90)`} textAnchor="middle" dy="0.35em" fontSize={11} fill="#222">
            <tspan>Shell correction energy for neutron E</tspan>
            <tspan fontSize={6.5} dy={-4}>n</tspan>
            <tspan fontSize={5.5} dx={-3.5} dy={7}>shell</tspan>
            <tspan dy={-3}> [MeV]</tspan>
          </text>
        </g>
      ))}
    </svg>
  );
}
